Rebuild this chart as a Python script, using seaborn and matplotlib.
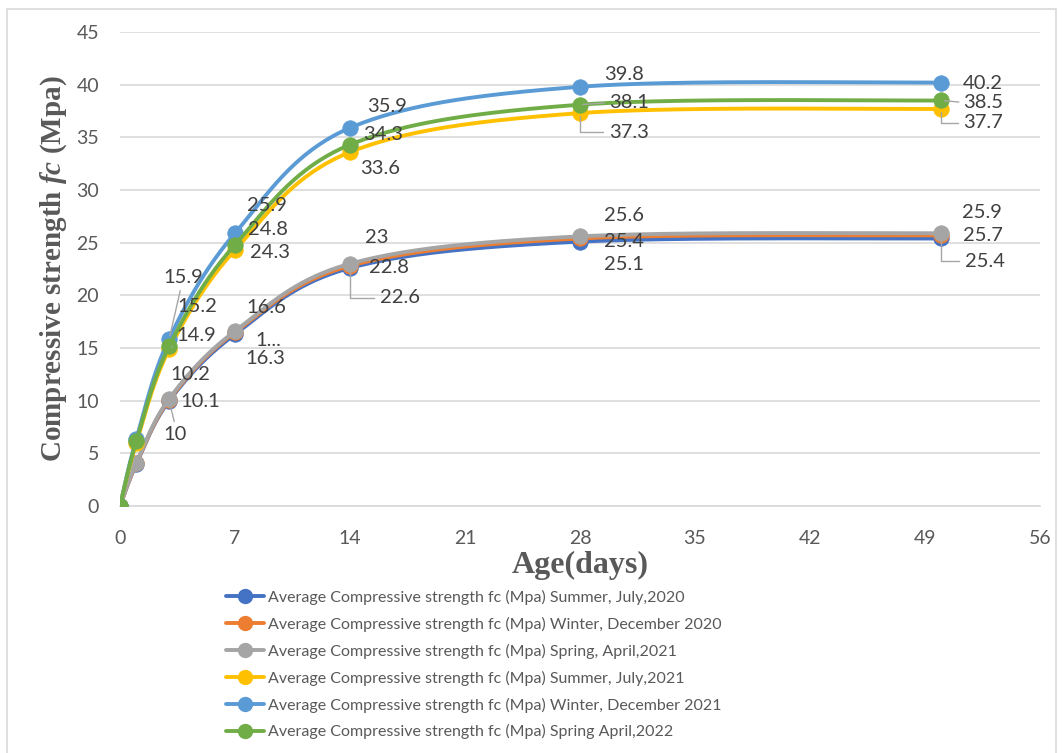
import numpy as np
import pandas as pd
import matplotlib
matplotlib.use("Agg")
import matplotlib.pyplot as plt
import seaborn as sns
from matplotlib.lines import Line2D
from matplotlib.patches import Rectangle

# ---- data -------------------------------------------------------------
days = [0, 1, 3, 7, 14, 28, 50]
summer_2020 = [0, 4.0, 10.0, 16.3, 22.6, 25.1, 25.4]
winter_2020 = [0, 4.05, 10.1, 16.5, 22.8, 25.4, 25.7]
spring_2021 = [0, 4.1, 10.2, 16.6, 23.0, 25.6, 25.9]
summer_2021 = [0, 6.0, 14.9, 24.3, 33.6, 37.3, 37.7]
winter_2021 = [0, 6.4, 15.9, 25.9, 35.9, 39.8, 40.2]
spring_2022 = [0, 6.2, 15.2, 24.8, 34.3, 38.1, 38.5]

series_names = [
    "Average Compressive strength fc (Mpa) Summer, July,2020",
    "Average Compressive strength fc (Mpa) Winter, December 2020",
    "Average Compressive strength fc (Mpa) Spring, April,2021",
    "Average Compressive strength fc (Mpa) Summer, July,2021",
    "Average Compressive strength fc (Mpa) Winter, December 2021",
    "Average Compressive strength fc (Mpa) Spring April,2022",
]
series_values = [summer_2020, winter_2020, spring_2021,
                 summer_2021, winter_2021, spring_2022]
colors = ["#4472C4", "#ED7D31", "#A5A5A5", "#FFC000", "#5B9BD5", "#70AD47"]

x_ticks = list(range(0, 57, 7))
y_ticks = list(range(0, 46, 5))

# data-label placement: pixel offset from the marker, leader style and the
# anchor point on the text box where a straight leader starts
label_layout = [
    {3: (6, -34, "line", (0.5, 1.0)), 7: (30, -24, None, None),
     14: (50, -30, "elbow", None), 28: (44, -23, None, None),
     50: (44, -23, "elbow", None)},
    {3: (31, -2, None, None), 7: (33, -8, None, None),
     14: (39, -2, None, None), 28: (44, -3, None, None),
     50: (42, 0, None, None)},
    {3: (21, 24, None, None), 7: (31, 24, None, None),
     14: (27, 26, None, None), 28: (44, 21, None, None),
     50: (41, 21, None, None)},
    {3: (27, 14, "line", (0.5, 1.0)), 7: (35, -2, None, None),
     14: (30, -16, None, None), 28: (49, -19, "elbow", None),
     50: (42, -14, "elbow", None)},
    {3: (14, 61, "line", (0.45, 0.0)), 7: (32, 28, None, None),
     14: (37, 21, None, None), 28: (44, 12, None, None),
     50: (41, -1, None, None)},
    {3: (28, 39, None, None), 7: (33, 15, None, None),
     14: (33, 10, None, None), 28: (49, 2, "line", (0.0, 0.5)),
     50: (42, -2, "line", (0.0, 0.5))},
]
# labels that do not fit are shortened
label_text_override = {(1, 7): "1..."}


def smooth_curve(xs, ys, n=40):
    """Cardinal (Catmull-Rom) Bezier smoothing through every point."""
    pts = np.column_stack([xs, ys]).astype(float)
    out = []
    for i in range(len(pts) - 1):
        p0 = pts[i - 1] if i > 0 else pts[i]
        p1, p2 = pts[i], pts[i + 1]
        p3 = pts[i + 2] if i + 2 < len(pts) else pts[i + 1]
        c1 = p1 + (p2 - p0) / 6.0
        c2 = p2 - (p3 - p1) / 6.0
        t = np.linspace(0, 1, n, endpoint=(i == len(pts) - 2))[:, None]
        seg = ((1 - t) ** 3) * p1 + 3 * ((1 - t) ** 2) * t * c1 \
            + 3 * (1 - t) * t ** 2 * c2 + t ** 3 * p2
        out.append(seg)
    out = np.vstack(out)
    return out[:, 0], out[:, 1]


sns.set_style("white")
plt.rcParams["font.family"] = ["Lato", "DejaVu Sans"]
plt.rcParams["mathtext.fontset"] = "custom"
plt.rcParams["mathtext.rm"] = "Liberation Serif:bold"
plt.rcParams["mathtext.it"] = "Liberation Serif:bold:italic"
plt.rcParams["mathtext.bf"] = "Liberation Serif:bold"

W, H = 1063, 753
fig = plt.figure(figsize=(W / 100, H / 100), dpi=100)
ax = fig.add_axes([120 / W, 1 - 506 / H, 920 / W, 474 / H])

# chart-area border
fig.patches.append(Rectangle((7 / W, -0.05), 1049 / W, 1.05 - 9 / H,
                             transform=fig.transFigure, fill=False,
                             edgecolor="#D9D9D9", lw=1.2))

text_color = "#404040"
axis_color = "#595959"

for k, (name, vals, col) in enumerate(zip(series_names, series_values, colors)):
    sx, sy = smooth_curve(days, vals)
    curve = pd.DataFrame({"Age": sx, "Strength": sy})
    pts = pd.DataFrame({"Age": days, "Strength": vals})
    sns.lineplot(data=curve, x="Age", y="Strength", sort=False, estimator=None,
                 color=col, lw=2.8, ax=ax, zorder=3 + 2 * k)
    sns.scatterplot(data=pts, x="Age", y="Strength", color=col, s=125,
                    edgecolor=col, linewidth=0.5, ax=ax, zorder=4 + 2 * k)

# data labels
for k, vals in enumerate(series_values):
    for d, v in zip(days, vals):
        if d not in label_layout[k]:
            continue
        dx, dy, leader, rel = label_layout[k][d]
        txt = label_text_override.get((k, d), f"{v:g}")
        kw = {}
        if leader == "line":
            kw["arrowprops"] = dict(arrowstyle="-", color="#A6A6A6", lw=1.0,
                                    shrinkA=1, shrinkB=2, relpos=rel)
        elif leader == "elbow":
            kw["arrowprops"] = dict(arrowstyle="-", color="#A6A6A6", lw=1.0,
                                    shrinkA=2, shrinkB=2, relpos=(0, 0.5),
                                    connectionstyle="angle,angleA=0,angleB=90,rad=0")
        ax.annotate(txt, xy=(d, v), xytext=(dx, dy), textcoords="offset pixels",
                    ha="center", va="center", fontsize=14.5, color=text_color,
                    zorder=20, **kw)

ax.set_xlim(0, 56)
ax.set_ylim(0, 45)
ax.set_xticks(x_ticks)
ax.set_yticks(y_ticks)
ax.yaxis.grid(True, color="#D9D9D9", lw=1.2)
ax.xaxis.grid(False)
ax.set_axisbelow(True)
for side in ["left", "right", "top"]:
    ax.spines[side].set_visible(False)
ax.spines["bottom"].set_color("#D9D9D9")
ax.spines["bottom"].set_linewidth(1.2)
ax.tick_params(axis="x", which="major", direction="out", length=6, width=1.2,
               color="#D9D9D9", pad=11, labelsize=14, labelcolor=axis_color)
ax.tick_params(axis="y", which="major", direction="out", length=5, width=1.2,
               color="#D9D9D9", pad=10, labelsize=14, labelcolor=axis_color)
for lab in ax.get_xticklabels() + ax.get_yticklabels():
    lab.set_clip_on(False)

ax.set_xlabel("Age(days)", fontfamily="Liberation Serif", fontweight="bold",
              fontsize=23, color=axis_color, labelpad=3)
ax.set_ylabel("Compressive strength $fc$ (Mpa)", fontfamily="Liberation Serif",
              fontweight="bold", fontsize=21, color=axis_color, labelpad=5)

handles = [Line2D([0], [0], color=c, lw=2.8, marker="o", markersize=10,
                  markerfacecolor=c, markeredgecolor=c) for c in colors]
fig.legend(handles, series_names, loc="upper left",
           bbox_to_anchor=(226 / W, 1 - 590 / H), frameon=False,
           fontsize=11.5, labelcolor=axis_color, handlelength=2.4,
           handletextpad=0.25, labelspacing=0.74, borderpad=0, borderaxespad=0)

fig.savefig("out.png", dpi=100)
